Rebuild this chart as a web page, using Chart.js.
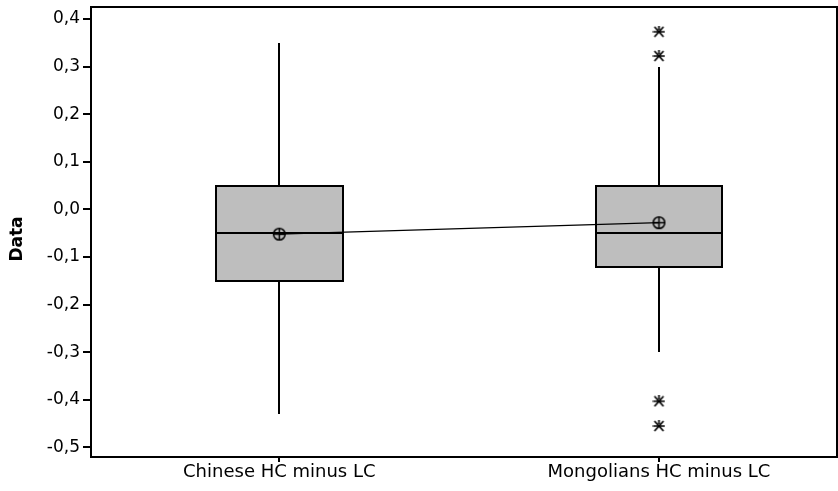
<!DOCTYPE html>
<html>
<head>
<meta charset="utf-8">
<script src="https://cdn.jsdelivr.net/npm/chart.js@4/dist/chart.umd.min.js"></script>
<style>
  html, body { margin: 0; padding: 0; background: #fff; }
  #wrap { width: 838px; height: 491px; position: relative; }
</style>
</head>
<body>
<div id="wrap"><canvas id="c" width="838" height="491"></canvas></div>
<script>
// ---- data ----
const categories = ['Chinese HC minus LC', 'Mongolians HC minus LC'];
const categoryPos = [1, 2];
const q1 = [-0.15, -0.12];
const median = [-0.05, -0.05];
const q3 = [0.05, 0.05];
const whiskerLow = [-0.43, -0.30];
const whiskerHigh = [0.35, 0.30];
const means = [-0.052, -0.028];
const outlierValues = [0.373, 0.322, -0.403, -0.455];
const outlierGroup = [2, 2, 2, 2];
const yTicks = [-0.5, -0.4, -0.3, -0.2, -0.1, 0.0, 0.1, 0.2, 0.3, 0.4];
const yTitle = 'Data';

// ---- marker images ----
function meanMarker() {
  const c = document.createElement('canvas');
  c.width = 15; c.height = 15;
  const g = c.getContext('2d');
  g.strokeStyle = '#000'; g.lineWidth = 1.5;
  g.beginPath(); g.arc(7.5, 7.5, 5.8, 0, Math.PI * 2); g.stroke();
  g.beginPath();
  g.moveTo(1.5, 7.5); g.lineTo(13.5, 7.5);
  g.moveTo(7.5, 1.5); g.lineTo(7.5, 13.5);
  g.stroke();
  return c;
}
function starMarker() {
  const c = document.createElement('canvas');
  c.width = 13; c.height = 12;
  const g = c.getContext('2d');
  g.strokeStyle = '#000'; g.lineWidth = 1.7;
  g.beginPath();
  g.moveTo(2, 1); g.lineTo(11, 11);
  g.moveTo(11, 1); g.lineTo(2, 11);
  g.moveTo(0.5, 6); g.lineTo(12.5, 6);
  g.moveTo(6.5, 0); g.lineTo(6.5, 4);
  g.stroke();
  return c;
}

const boxHalf = 0.167;

const boxPlugin = {
  id: 'boxPlugin',
  beforeDatasetsDraw(chart) {
    const ctx = chart.ctx;
    const xs = chart.scales.x, ys = chart.scales.y;
    ctx.save();
    ctx.lineWidth = 2;
    ctx.strokeStyle = '#000';
    for (let i = 0; i < categoryPos.length; i++) {
      const cx = Math.round(xs.getPixelForValue(categoryPos[i]));
      const xl = Math.round(xs.getPixelForValue(categoryPos[i] - boxHalf));
      const xr = Math.round(xs.getPixelForValue(categoryPos[i] + boxHalf));
      const yq3 = Math.round(ys.getPixelForValue(q3[i]));
      const yq1 = Math.round(ys.getPixelForValue(q1[i]));
      const ym = Math.round(ys.getPixelForValue(median[i]));
      const yhi = Math.round(ys.getPixelForValue(whiskerHigh[i]));
      const ylo = Math.round(ys.getPixelForValue(whiskerLow[i]));
      // whiskers
      ctx.beginPath();
      ctx.moveTo(cx, yq3); ctx.lineTo(cx, yhi);
      ctx.moveTo(cx, yq1); ctx.lineTo(cx, ylo);
      ctx.stroke();
      // box
      ctx.fillStyle = '#bebebe';
      ctx.fillRect(xl, yq3, xr - xl, yq1 - yq3);
      ctx.strokeRect(xl, yq3, xr - xl, yq1 - yq3);
      // median
      ctx.beginPath();
      ctx.moveTo(xl, ym); ctx.lineTo(xr + 1, ym);
      ctx.stroke();
    }
    ctx.restore();
  },
  afterDraw(chart) {
    const ctx = chart.ctx;
    const a = chart.chartArea;
    ctx.save();
    ctx.strokeStyle = '#000';
    ctx.lineWidth = 2;
    ctx.beginPath();
    ctx.moveTo(Math.round(a.left), Math.round(a.top));
    ctx.lineTo(Math.round(a.right), Math.round(a.top));
    ctx.lineTo(Math.round(a.right), Math.round(a.bottom));
    ctx.stroke();
    // y title
    ctx.fillStyle = '#000';
    ctx.font = 'bold 17px "DejaVu Sans"';
    ctx.textAlign = 'center';
    ctx.textBaseline = 'middle';
    ctx.translate(18, 239);
    ctx.rotate(-Math.PI / 2);
    ctx.fillText(yTitle, 0, 0);
    ctx.restore();
  }
};

function noPad(s) {
  s.paddingLeft = 0; s.paddingRight = 0; s.paddingTop = 0; s.paddingBottom = 0;
}

new Chart(document.getElementById('c'), {
  type: 'scatter',
  data: {
    datasets: [
      {
        label: 'Mean',
        data: categoryPos.map((x, i) => ({ x: x, y: means[i] })),
        showLine: true,
        borderColor: '#000',
        borderWidth: 1.3,
        pointStyle: meanMarker(),
        pointRadius: 7,
        pointHoverRadius: 7
      },
      {
        label: 'Outliers',
        data: outlierValues.map((v, i) => ({ x: outlierGroup[i], y: v })),
        showLine: false,
        pointStyle: starMarker(),
        pointRadius: 6,
        pointHoverRadius: 6
      }
    ]
  },
  plugins: [boxPlugin],
  options: {
    responsive: false,
    animation: false,
    events: [],
    layout: { autoPadding: false, padding: { top: 7, right: 1, left: 0, bottom: 0 } },
    plugins: { legend: { display: false }, tooltip: { enabled: false } },
    scales: {
      x: {
        type: 'linear',
        min: 0.504,
        max: 2.469,
        afterBuildTicks: s => { s.ticks = categoryPos.map(v => ({ value: v })); },
        afterFit: s => { s.height = 34; noPad(s); },
        grid: { drawOnChartArea: false, drawTicks: true, tickLength: 5, color: '#000', lineWidth: 2 },
        border: { display: true, color: '#000', width: 2 },
        ticks: {
          color: '#000',
          font: { family: 'DejaVu Sans', size: 18 },
          padding: 0,
          maxRotation: 0,
          autoSkip: false,
          callback: v => categories[categoryPos.indexOf(v)] || ''
        }
      },
      y: {
        min: -0.52,
        max: 0.425,
        afterBuildTicks: s => { s.ticks = yTicks.map(v => ({ value: v })); },
        afterFit: s => { s.width = 91; noPad(s); },
        grid: { drawOnChartArea: false, drawTicks: true, tickLength: 8, color: '#000', lineWidth: 2 },
        border: { display: true, color: '#000', width: 2 },
        ticks: {
          color: '#000',
          font: { family: 'DejaVu Sans', size: 17 },
          padding: 3,
          autoSkip: false,
          callback: v => v.toFixed(1).replace('.', ',').replace('-0,0', '0,0')
        }
      }
    }
  }
});
</script>
</body>
</html>
